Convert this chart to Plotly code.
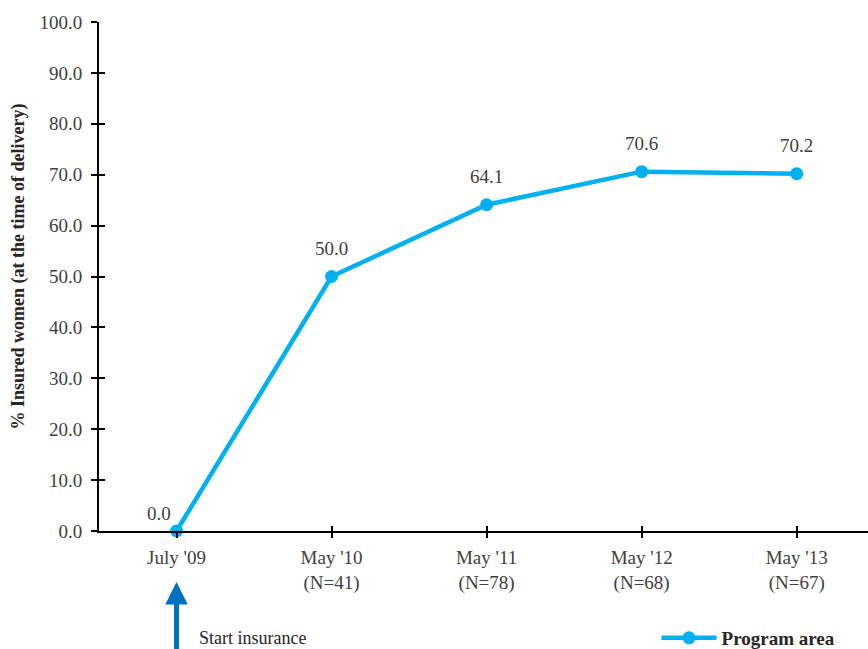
import plotly.graph_objects as go

categories = ["July '09", "May '10", "May '11", "May '12", "May '13"]
tick_labels = ["July '09", "May '10<br>(N=41)", "May '11<br>(N=78)", "May '12<br>(N=68)", "May '13<br>(N=67)"]
program_area = [0.0, 50.0, 64.1, 70.6, 70.2]
series_name = "Program area"
y_title = "% Insured women (at the time of delivery)"
arrow_text = "Start insurance"

FONT = "Liberation Serif"
LINE = "#00B0F0"
TXT = "#404040"
xs = list(range(len(categories)))

fig = go.Figure()
fig.add_trace(go.Scatter(
    x=xs, y=program_area, mode="lines+markers", name=series_name,
    line=dict(color=LINE, width=4.5), marker=dict(color=LINE, size=13),
    cliponaxis=False,
))
# overlay invisible trace to enable secondary axes (inside tick halves)
fig.add_trace(go.Scatter(x=xs, y=program_area, xaxis="x2", yaxis="y2",
                         mode="markers", marker=dict(opacity=0), showlegend=False, hoverinfo="skip"))

xr = [-0.5, 4.46]
fig.update_layout(
    width=868, height=649,
    margin=dict(l=99, r=0, t=22, b=118),
    paper_bgcolor="white", plot_bgcolor="white",
    font=dict(family=FONT, size=19, color=TXT),
    showlegend=True,
    legend=dict(x=0.725, y=-0.2318, xanchor="left", yanchor="bottom",
                font=dict(family=FONT, size=19, color="#262626", weight="bold"),
                bgcolor="rgba(0,0,0,0)", borderwidth=0, itemwidth=55),
    xaxis=dict(range=xr, tickmode="array", tickvals=xs, ticktext=tick_labels,
               showgrid=False, zeroline=False, showline=True, linecolor="black", linewidth=2,
               ticks="outside", ticklen=5, tickwidth=2, tickcolor="black", ticklabelstandoff=3,
               tickfont=dict(family=FONT, size=19, color=TXT)),
    yaxis=dict(range=[0, 100], tickmode="linear", tick0=0, dtick=10, tickformat=".1f",
               showgrid=False, zeroline=False, showline=True, linecolor="black", linewidth=2,
               ticks="outside", ticklen=6, tickwidth=2, tickcolor="black", ticklabelstandoff=5,
               tickfont=dict(family=FONT, size=19, color=TXT)),
    xaxis2=dict(range=xr, overlaying="x", tickmode="array", tickvals=xs[1:], showticklabels=False,
                showgrid=False, zeroline=False, showline=False,
                ticks="inside", ticklen=5, tickwidth=2, tickcolor="black"),
    yaxis2=dict(range=[0, 100], overlaying="y", tickmode="linear", tick0=0, dtick=10,
                showticklabels=False, showgrid=False, zeroline=False, showline=False,
                ticks="inside", ticklen=6, tickwidth=2, tickcolor="black"),
)

# data labels
for i, v in enumerate(program_area):
    if i == 0:
        fig.add_annotation(x=xs[i], y=v, text=f"{v:.1f}", showarrow=False,
                           xshift=-18, yshift=18, font=dict(family=FONT, size=19, color=TXT))
    else:
        fig.add_annotation(x=xs[i], y=v, text=f"{v:.1f}", showarrow=False,
                           yshift=28, font=dict(family=FONT, size=19, color=TXT))

# y title
fig.add_annotation(xref="paper", yref="paper", x=-0.105, y=0.52, text=y_title, textangle=-90,
                   showarrow=False, xanchor="center", yanchor="middle",
                   font=dict(family=FONT, size=18, color="#262626", weight="bold"))

# arrow
fig.add_annotation(x=xs[0], y=-0.1, xref="x", yref="y domain", ax=xs[0], ay=-0.24,
                   axref="x", ayref="y domain", text="", showarrow=True,
                   arrowhead=2, arrowsize=0.9, arrowwidth=5, arrowcolor="#0070C0")
fig.add_annotation(xref="paper", yref="paper", x=0.127, y=-0.21, text=arrow_text, showarrow=False,
                   xanchor="left", yanchor="middle", font=dict(family=FONT, size=18, color="#262626"))

post = """
document.body.style.margin='0';document.body.style.padding='0';
var gd=document.querySelector('.plotly-graph-div');
function shiftLegend(){var lg=gd.querySelector('g.legend'); if(!lg) return;
 var t=lg.getAttribute('transform')||''; var m=t.match(/translate\\(([-\\d.]+)[ ,]+([-\\d.]+)\\)/);
 if(m && !lg.__shifted){lg.setAttribute('transform','translate('+m[1]+','+(parseFloat(m[2])+8)+')'); lg.__shifted=true;}}
shiftLegend();
"""
fig.write_html("out.html", config={"displayModeBar": False}, post_script=post)
